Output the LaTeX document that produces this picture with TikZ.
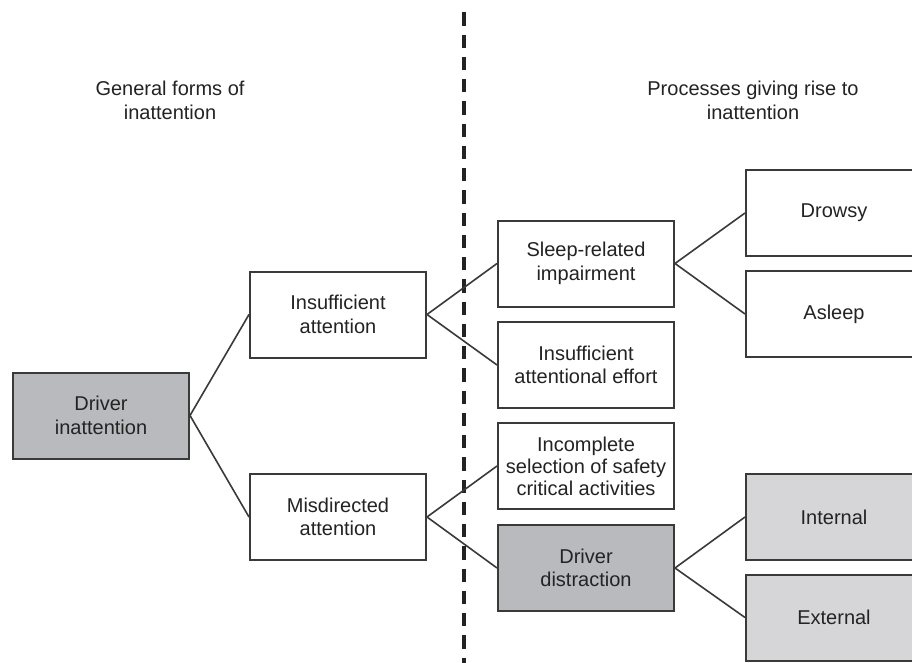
\documentclass[tikz,border=0pt]{standalone}
\usepackage{fontspec}
\setmainfont{Liberation Sans}
\definecolor{ink}{HTML}{242324}
\definecolor{edge}{HTML}{3A3A3A}
\definecolor{darkfill}{HTML}{B9BABE}
\definecolor{lightfill}{HTML}{D6D6D8}
\begin{document}
\begin{tikzpicture}[x=1pt,y=-1pt,
  every node/.style={font=\fontsize{20}{23.5}\selectfont, text=ink},
  box/.style={draw=edge, line width=2pt, fill=white, minimum width=176pt, minimum height=86pt, align=center, inner sep=0pt},
  boxdark/.style={box, fill=darkfill},
  boxlight/.style={box, fill=lightfill},
  link/.style={draw=edge, line width=1.6pt},
  divider/.style={draw=ink, line width=3.2pt, dash pattern=on 13.3pt off 8.95pt}
]
\useasboundingbox[fill=white] (0,0) rectangle (912,663);

% divider
\coordinate (dtop) at (464,12.3);
\coordinate (dbot) at (464,680);
\draw[divider] (dtop) -- (dbot);

% headers
\node[align=center] (hl) at (170,100.4) {General forms of\\inattention};
\node[align=center] (hr) at (753,100.4) {Processes giving rise to\\inattention};

% boxes
\node[boxdark]  (di)  at (101,415.5) {Driver\\inattention};
\node[box]      (ia)  at (338,314.5) {Insufficient\\attention};
\node[box]      (ma)  at (338,517)   {Misdirected\\attention};
\node[box]      (sr)  at (586,263.5) {Sleep-related\\impairment};
\node[box]      (iae) at (586,365)   {Insufficient\\attentional effort};
\node[box, font=\fontsize{20}{22}\selectfont] (ic) at (586,466) {Incomplete\\selection of safety\\critical activities};
\node[boxdark]  (dd)  at (586,568)   {Driver\\distraction};
\node[box]      (dr)  at (834,213)   {Drowsy};
\node[box]      (as)  at (834,314)   {Asleep};
\node[boxlight] (in)  at (834,517)   {Internal};
\node[boxlight] (ex)  at (834,617.5) {External};

% connectors
\draw[link] (ia.west) -- (di.east) -- (ma.west);
\draw[link] (sr.west) -- (ia.east) -- (iae.west);
\draw[link] (ic.west) -- (ma.east) -- (dd.west);
\draw[link] (dr.west) -- (sr.east) -- (as.west);
\draw[link] (in.west) -- (dd.east) -- (ex.west);
\end{tikzpicture}
\end{document}
